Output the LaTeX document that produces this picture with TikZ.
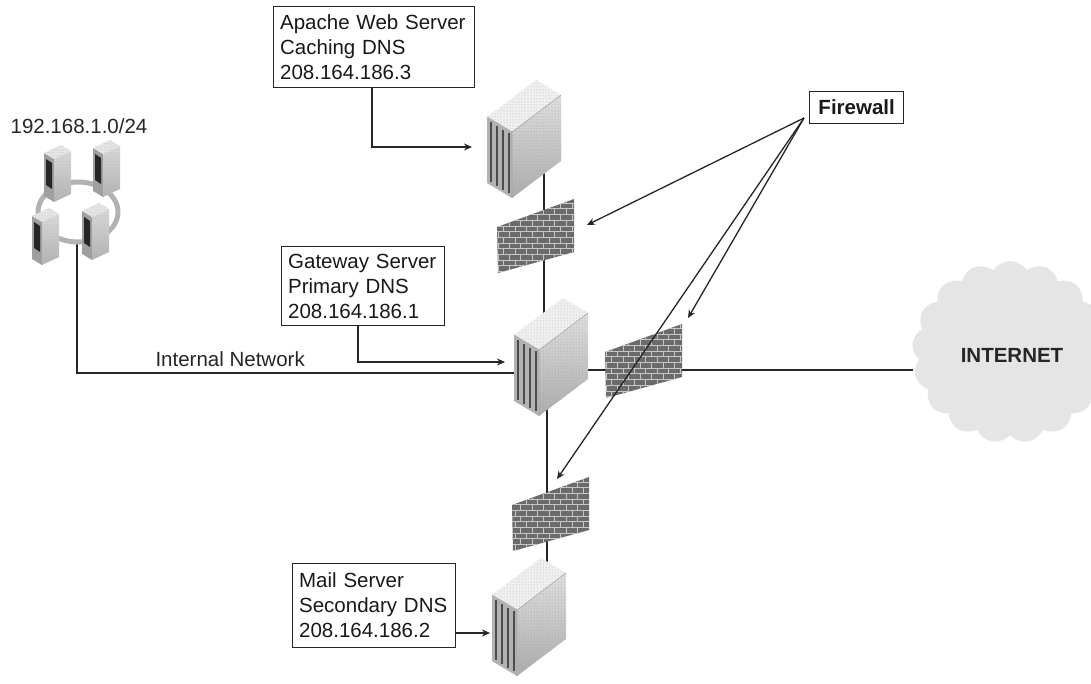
\documentclass[tikz,border=0pt]{standalone}
\usepackage{fontspec}
\setmainfont{Liberation Sans}
\usetikzlibrary{arrows.meta,shapes.symbols,patterns}
\newcommand{\fsz}{\fontsize{20.5pt}{25pt}\selectfont}
\tikzset{
  ink/.style={black!85},
  wire/.style={draw=black!85, line width=1.3pt},
  arr/.style={draw=black!85, line width=1.3pt, -{Stealth[length=8pt,width=7pt]}},
  lbl/.style={draw=black!85, line width=1.3pt, align=left, anchor=north west,
              inner sep=0pt, font=\fsz, text=black!90},
  server/.pic={
    % left (front) face
    \fill[gray!60] (0,37)--(25,52)--(25,118)--(0,103)--cycle;
    \foreach \u in {4,10,16,22}{
      \draw[black!70,line width=1.2pt] (\u,{37+0.6*\u+3}) -- (\u,{103+0.6*\u-3});
    }
    % right face
    \shade[top color=gray!25,bottom color=gray!65] (25,52)--(74,15)--(74,81)--(25,118)--cycle;
    \fill[pattern=dots,pattern color=gray!75] (25,52)--(74,15)--(74,81)--(25,118)--cycle;
    % top face
    \fill[gray!12] (49,0)--(74,15)--(25,52)--(0,37)--cycle;
    \fill[pattern=dots,pattern color=gray!65] (49,0)--(74,15)--(25,52)--(0,37)--cycle;
    \draw[gray!70,line width=0.6pt] (0,37)--(25,52)--(74,15) (25,52)--(25,118);
  },
  minisrv/.pic={
    \fill[gray!75] (0,8)--(10,14)--(10,57)--(0,51)--cycle;
    \fill[black!85] (2,14)--(8,18)--(8,44)--(2,40)--cycle;
    \shade[top color=gray!30,bottom color=gray!60] (10,14)--(27,6)--(27,49)--(10,57)--cycle;
    \fill[pattern=dots,pattern color=gray!60] (10,14)--(27,6)--(27,49)--(10,57)--cycle;
    \fill[gray!20] (17,0)--(27,6)--(10,14)--(0,8)--cycle;
    \fill[pattern=dots,pattern color=gray!60] (17,0)--(27,6)--(10,14)--(0,8)--cycle;
  },
  firewall/.pic={
    \fill[black!58] (0,0)--(77,-28)--(77,25)--(1,46)--cycle;
    \fill[pattern=bricks,pattern color=gray!45] (0,0)--(77,-28)--(77,25)--(1,46)--cycle;
  }
}
\begin{document}
\begin{tikzpicture}[x=1pt,y=-1pt]
\useasboundingbox[fill=white] (0,0) rectangle (1091,684);

% ---- named anchor points
\coordinate (bbA) at (544,130);
\coordinate (bbG) at (544,330);
\coordinate (bbG2) at (547,400);
\coordinate (bbM) at (547,600);
\coordinate (clu) at (77,240);
\coordinate (gwL) at (530,373);
\coordinate (gwR) at (570,370);

% ---- backbone wires (behind equipment)
\draw[wire] (bbA) -- (bbG);
\draw[wire] (bbG2) -- (bbM);
\draw[wire] (clu) |- (gwL);

% ---- cloud
\node[cloud, cloud puffs=17, cloud puff arc=115, aspect=1.05, fill=gray!20,
      minimum width=196pt, minimum height=182pt, inner sep=0pt]
      (net) at (1010,352) {};
\draw[wire] (gwR) -- (net.west |- gwR);

% ---- cluster
\draw[gray!60, line width=5pt] (78,212) ellipse [x radius=40pt, y radius=30pt];
\pic at (44,145) {minisrv};
\pic at (93,140) {minisrv};
\pic at (32,208) {minisrv};
\pic at (82,203) {minisrv};
\node[font=\fsz, text=black!85] (subnet) at (79,126) {192.168.1.0/24};

% ---- servers and firewalls
\pic at (487,80) {server};
\pic at (514,298) {server};
\pic at (492,558) {server};
\pic at (497,227) {firewall};
\pic at (605,352) {firewall};
\pic at (512,505) {firewall};

\node[font=\fsz\bfseries, text=black!85] (nettext) at (1012,355) {INTERNET};

% ---- label boxes
\node[lbl, minimum width=201pt, minimum height=81pt, text width=188pt] (apache) at (273,6)
  {Apache Web Server\\Caching DNS\\208.164.186.3};
\node[lbl, minimum width=163pt, minimum height=79pt, text width=150pt] (gate) at (281,246)
  {Gateway Server\\Primary DNS\\208.164.186.1};
\node[lbl, minimum width=163pt, minimum height=84pt, text width=150pt] (mail) at (292,563)
  {Mail Server\\Secondary DNS\\208.164.186.2};
\node[lbl, minimum width=94pt, minimum height=32pt, align=center, font=\fsz\bfseries] (fwl) at (809,91)
  {Firewall};
\node[font=\fsz, text=black!85, anchor=base west] (intnet) at (152,366) {Internal Network};

% ---- label arrows
\coordinate (aIn) at (472,147);
\coordinate (gIn) at (505,362);
\coordinate (mIn) at (490,633);
\draw[arr] (apache.south -| 372,0) |- (aIn);
\draw[arr] (gate.south -| 358,0) |- (gIn);
\draw[arr] (mail.east |- mIn) -- (mIn);

% ---- firewall pointers
\coordinate (fsrc) at (804,118);
\coordinate (fw1) at (587,225);
\coordinate (fw2) at (688,318);
\coordinate (fw3) at (557,479);
\draw[arr] (fsrc) -- (fw1);
\draw[arr] (fsrc) -- (fw2);
\draw[arr] (fsrc) -- (fw3);
\end{tikzpicture}
\end{document}
